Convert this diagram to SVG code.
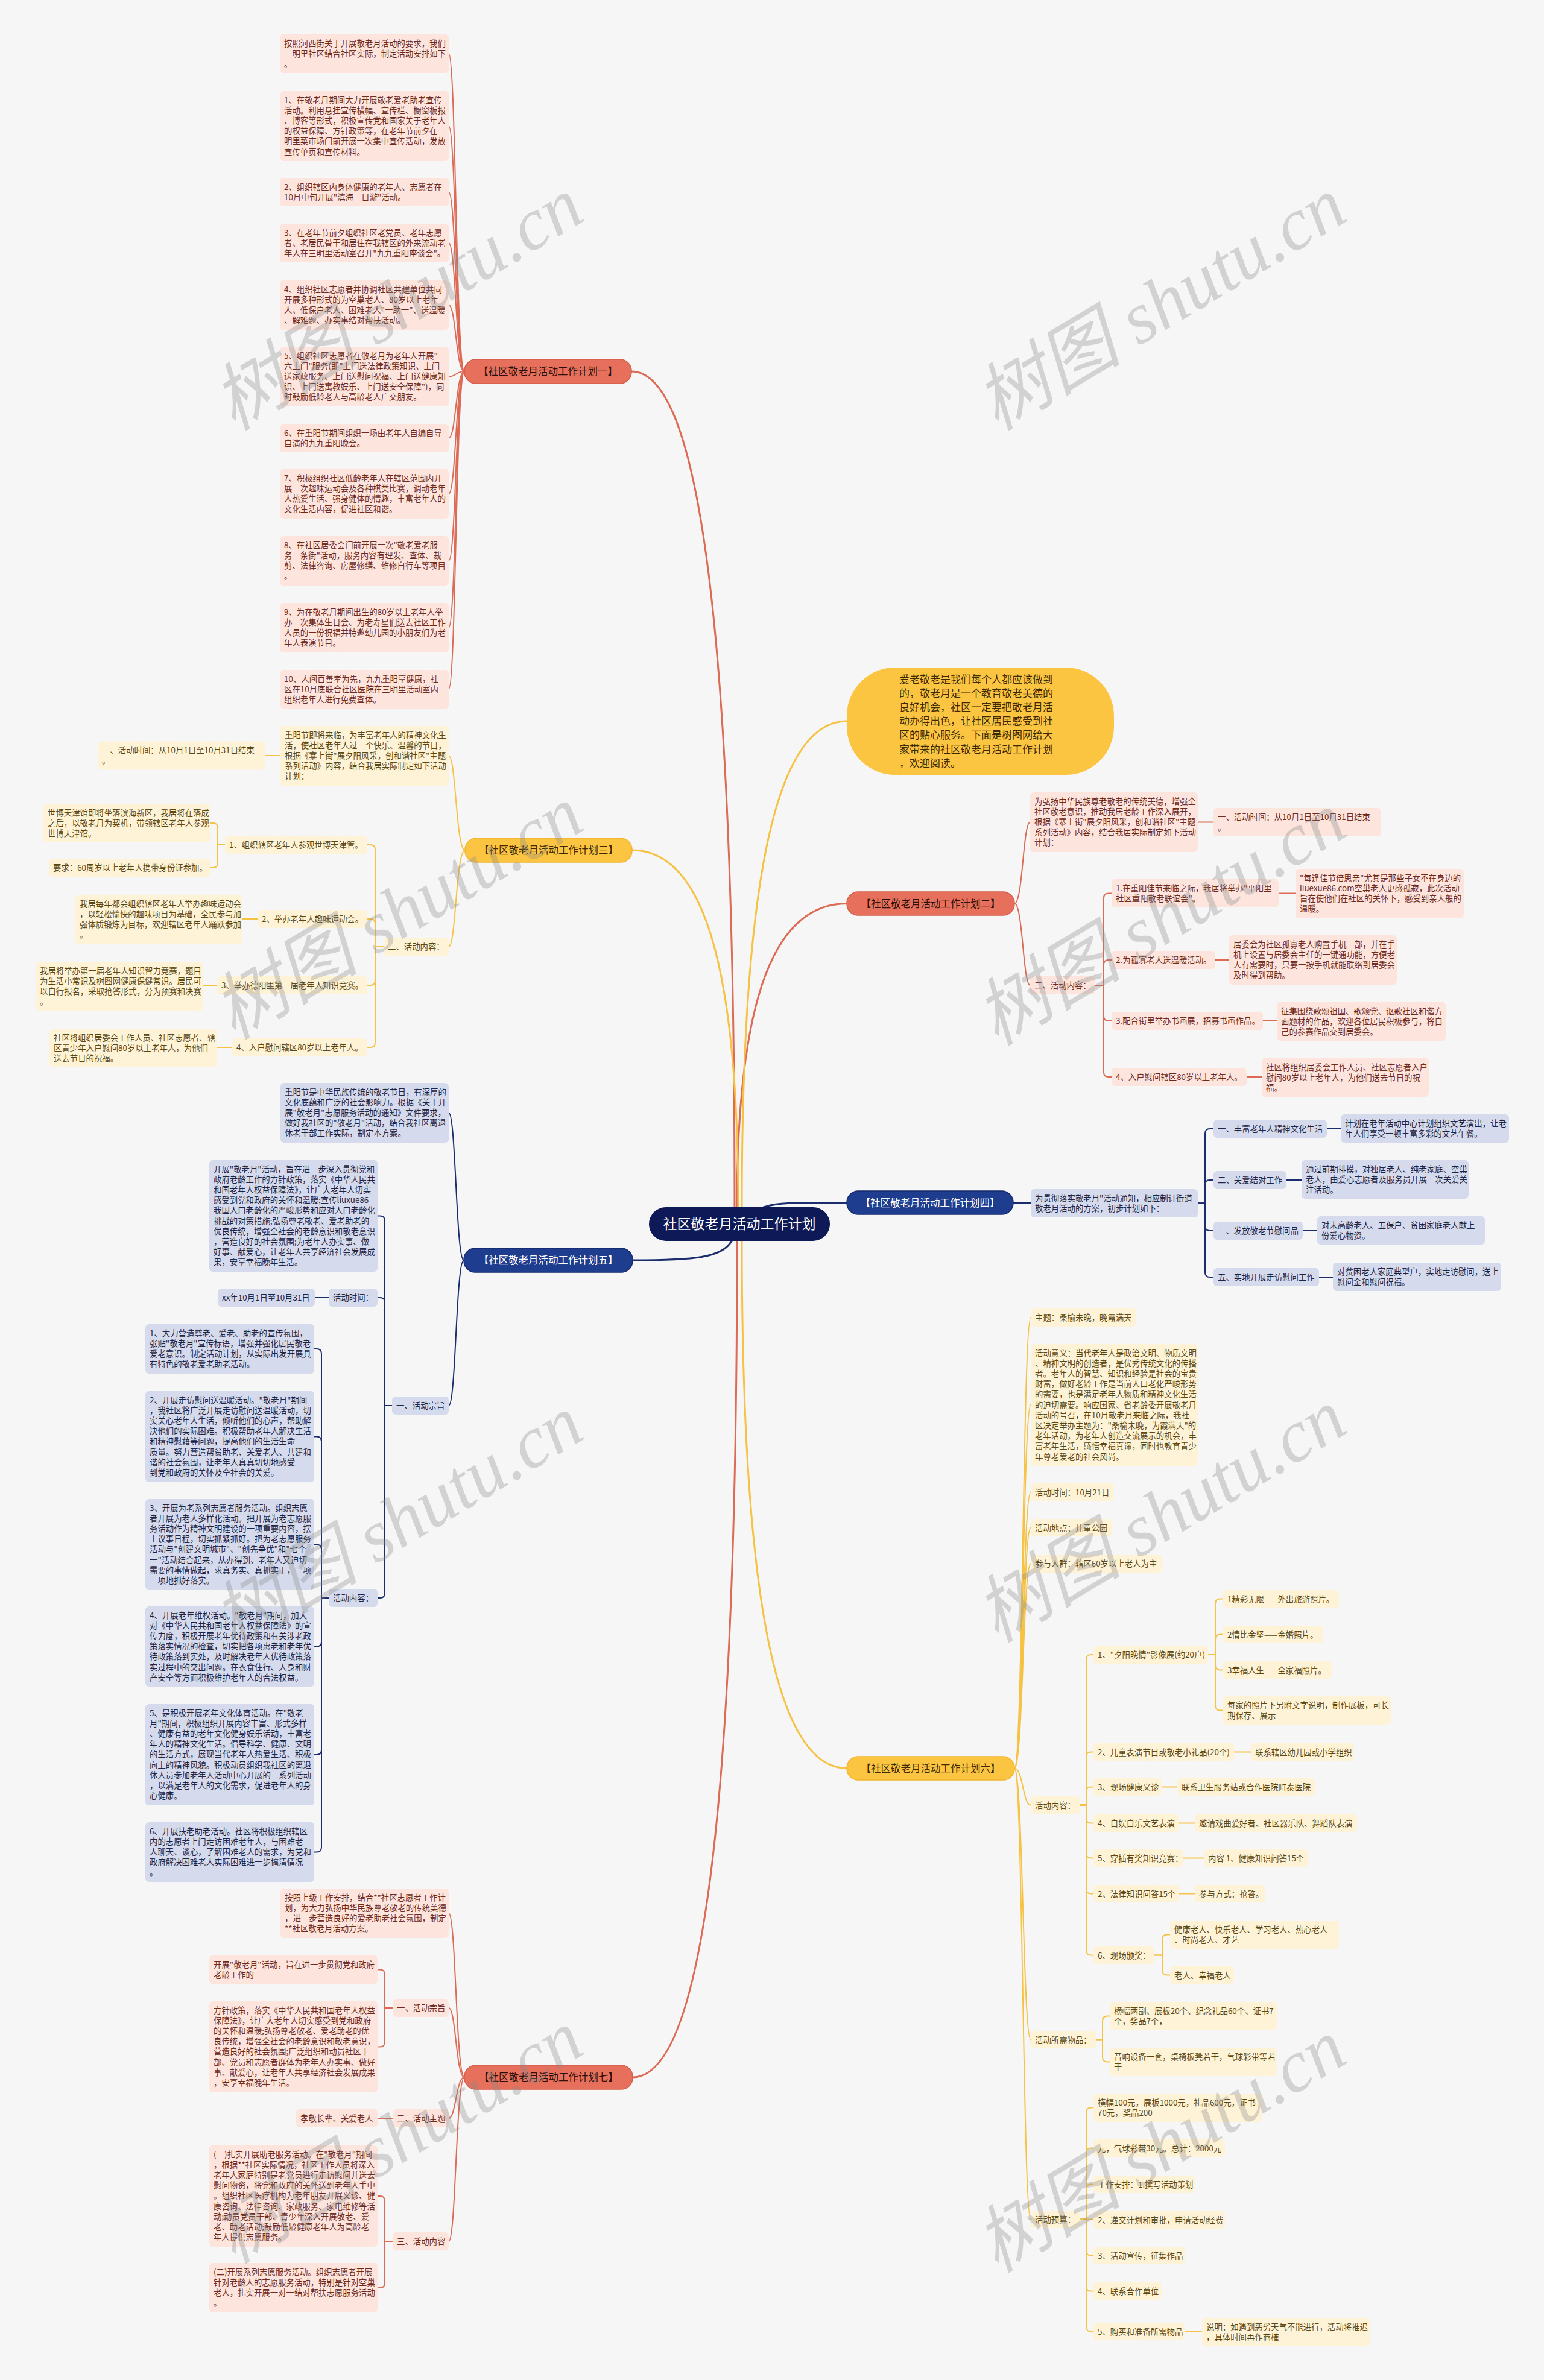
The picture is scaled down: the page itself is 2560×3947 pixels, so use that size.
<svg xmlns="http://www.w3.org/2000/svg" width="2560" height="3947" viewBox="0 0 2560 3947">
<style>
text{font-family:"Noto Sans CJK SC","Noto Sans",sans-serif}
.lr rect{fill:#fde4dd}.lr text{fill:#6d2a1d;font-size:13.4px}
.ly rect{fill:#fff3d7}.ly text{fill:#5b4712;font-size:13.4px}
.ln rect{fill:#d5dbec}.ln text{fill:#1d2445;font-size:13.4px}
.br rect{fill:#e6705b;stroke:#d45e49;stroke-width:1.5}.br text{fill:#2c0f08}
.by rect{fill:#fcc541;stroke:#f0b42c;stroke-width:1.5}.by text{fill:#3e2a02}
.bv rect{fill:#1f3d8e;stroke:#15296b;stroke-width:1.5}.bv text{fill:#fff}
.br text,.by text,.bv text{font-size:16.5px;text-anchor:middle}
#connectors path{fill:none;stroke-linecap:round;stroke-linejoin:round}
.cr path{stroke:#dc6a55}.cy path{stroke:#f6c244}.cv path{stroke:#1b2d6e}
.w3 path{stroke-width:3}.w2 path{stroke-width:2}
.wm text{font-family:"Liberation Serif","Noto Sans CJK SC",serif;font-style:italic;font-size:122px;fill:#8a8a8a;fill-opacity:0.33;text-anchor:middle}
</style>
<rect x="0" y="0" width="2560" height="3947" fill="#f6f6f6"/>

<g id="connectors">
  <g class="cr w3">
    <path d="M1218 2002 C1218 1032 1158 616 1047 616"/>
    <path d="M1222 2002 C1222 1649.5 1286 1498.5 1404 1498.5"/>
    <path d="M1222 2058 C1222 3029 1161 3445 1049 3445"/>
  </g>
  <g class="cy w3">
    <path d="M1224 2002 C1224 1588 1162 1410 1048 1410"/>
    <path d="M1230 2002 C1230 1438 1291 1196 1404 1196"/>
    <path d="M1230 2058 C1230 2670 1291 2932.5 1404 2932.5"/>
  </g>
  <g class="cv w3">
    <path d="M1266 2002 C1292 1993 1330 1995 1404 1995"/>
    <path d="M1213 2058 C1198 2086 1150 2090 1049 2090"/>
  </g>
  <g class="cr w2">
    <path d="M770 616 C756 616 756 89 744 89"/>
    <path d="M770 616 C756 616 756 209 744 209"/>
    <path d="M770 616 C756 616 756 318.5 744 318.5"/>
    <path d="M770 616 C756 616 756 403 744 403"/>
    <path d="M770 616 C756 616 756 506 744 506"/>
    <path d="M770 616 C756 616 756 624.5 744 624.5"/>
    <path d="M770 616 C756 616 756 726.5 744 726.5"/>
    <path d="M770 616 C756 616 756 819 744 819"/>
    <path d="M770 616 C756 616 756 930 744 930"/>
    <path d="M770 616 C756 616 756 1041 744 1041"/>
    <path d="M770 616 C756 616 756 1143 744 1143"/>
    <path d="M770 3445 C756 3445 756 3173 744 3173"/>
    <path d="M770 3445 C756 3445 756 3330 744 3330"/>
    <path d="M770 3445 C756 3445 756 3513 744 3513"/>
    <path d="M770 3445 C756 3445 756 3717 744 3717"/>
    <path d="M651 3330 H638 V3274.5 Q638 3266.5 630 3266.5 H626"/>
    <path d="M651 3330 H638 V3386.5 Q638 3394.5 630 3394.5 H626"/>
    <path d="M651 3513 H626"/>
    <path d="M651 3717 H638 V3650 Q638 3642 630 3642 H626"/>
    <path d="M651 3717 H638 V3786 Q638 3794 630 3794 H626"/>
    <path d="M1682 1498.5 C1696 1498.5 1696 1363.5 1708 1363.5"/>
    <path d="M1682 1498.5 C1696 1498.5 1696 1634 1708 1634"/>
    <path d="M1986 1363.5 H2012"/>
    <path d="M1816 1634 H1830 V1489.5 Q1830 1481.5 1838 1481.5 H1843"/>
    <path d="M1816 1634 H1830 V1600 Q1830 1592 1838 1592 H1843"/>
    <path d="M1816 1634 H1830 V1685 Q1830 1693 1838 1693 H1843"/>
    <path d="M1816 1634 H1830 V1778 Q1830 1786 1838 1786 H1843"/>
    <path d="M2120 1481.5 H2148"/>
    <path d="M2015 1592 H2038"/>
    <path d="M2094 1693 H2117"/>
    <path d="M2067 1786 H2092"/>
  </g>
  <g class="cy w2">
    <path d="M771 1410 C756 1410 756 1253.5 744 1253.5"/>
    <path d="M771 1410 C756 1410 756 1570 744 1570"/>
    <path d="M465 1253 H440"/>
    <path d="M636 1570 H622 V1409 Q622 1401 614 1401 H609"/>
    <path d="M636 1570 H622 V1532 Q622 1524 614 1524 H609"/>
    <path d="M636 1570 H622 V1626 Q622 1634 614 1634 H609"/>
    <path d="M636 1570 H622 V1729 Q622 1737 614 1737 H609"/>
    <path d="M373 1401 H361 V1373 Q361 1365 353 1365 H349"/>
    <path d="M373 1401 H361 V1431 Q361 1439 353 1439 H349"/>
    <path d="M427 1524 H402"/>
    <path d="M360 1634 H336"/>
    <path d="M385 1737 H360"/>
    <path d="M1682 2932.5 C1696 2932.5 1696 2185 1709 2185"/>
    <path d="M1682 2932.5 C1696 2932.5 1696 2330 1709 2330"/>
    <path d="M1682 2932.5 C1696 2932.5 1696 2474.5 1709 2474.5"/>
    <path d="M1682 2932.5 C1696 2932.5 1696 2533.5 1709 2533.5"/>
    <path d="M1682 2932.5 C1696 2932.5 1696 2593 1709 2593"/>
    <path d="M1682 2932.5 C1696 2932.5 1696 2993.5 1709 2993.5"/>
    <path d="M1682 2932.5 C1696 2932.5 1696 3382.5 1709 3382.5"/>
    <path d="M1682 2932.5 C1696 2932.5 1696 3680.5 1709 3680.5"/>
    <path d="M1790 2993.5 H1801 V2752 Q1801 2744 1809 2744 H1813"/>
    <path d="M1790 2993.5 H1801 V2913.5 Q1801 2905.5 1809 2905.5 H1813"/>
    <path d="M1790 2993.5 H1801 V2971.5 Q1801 2963.5 1809 2963.5 H1813"/>
    <path d="M1790 2993.5 H1801 V3015.5 Q1801 3023.5 1809 3023.5 H1813"/>
    <path d="M1790 2993.5 H1801 V3073.5 Q1801 3081.5 1809 3081.5 H1813"/>
    <path d="M1790 2993.5 H1801 V3132.5 Q1801 3140.5 1809 3140.5 H1813"/>
    <path d="M1790 2993.5 H1801 V3234.5 Q1801 3242.5 1809 3242.5 H1813"/>
    <path d="M2003 2744 H2015 V2659.5 Q2015 2651.5 2023 2651.5 H2028"/>
    <path d="M2003 2744 H2015 V2718.5 Q2015 2710.5 2023 2710.5 H2028"/>
    <path d="M2003 2744 H2015 V2761.5 Q2015 2769.5 2023 2769.5 H2028"/>
    <path d="M2003 2744 H2015 V2828.5 Q2015 2836.5 2023 2836.5 H2028"/>
    <path d="M2046 2905.5 H2074"/>
    <path d="M1926 2963.5 H1952"/>
    <path d="M1955 3023.5 H1981"/>
    <path d="M1961 3081.5 H1996"/>
    <path d="M1955 3140.5 H1981"/>
    <path d="M1914 3242.5 H1927 V3216.5 Q1927 3208.5 1935 3208.5 H1940"/>
    <path d="M1914 3242.5 H1927 V3267.5 Q1927 3275.5 1935 3275.5 H1940"/>
    <path d="M1817 3382.5 H1828 V3351.5 Q1828 3343.5 1836 3343.5 H1840"/>
    <path d="M1817 3382.5 H1828 V3411.5 Q1828 3419.5 1836 3419.5 H1840"/>
    <path d="M1790 3680.5 H1801 V3503.5 Q1801 3495.5 1809 3495.5 H1813"/>
    <path d="M1790 3680.5 H1801 V3570.5 Q1801 3562.5 1809 3562.5 H1813"/>
    <path d="M1790 3680.5 H1801 V3630.5 Q1801 3622.5 1809 3622.5 H1813"/>
    <path d="M1790 3680.5 H1813"/>
    <path d="M1790 3680.5 H1801 V3732.5 Q1801 3740.5 1809 3740.5 H1813"/>
    <path d="M1790 3680.5 H1801 V3791.5 Q1801 3799.5 1809 3799.5 H1813"/>
    <path d="M1790 3680.5 H1801 V3858.5 Q1801 3866.5 1809 3866.5 H1813"/>
    <path d="M1964 3866.5 H1993"/>
  </g>
  <g class="cv w2">
    <path d="M769 2090 C756 2090 756 1845.5 744 1845.5"/>
    <path d="M769 2090 C756 2090 756 2331 744 2331"/>
    <path d="M650 2331 H638 V2024.5 Q638 2016.5 630 2016.5 H626"/>
    <path d="M650 2331 H638 V2160 Q638 2152 630 2152 H626"/>
    <path d="M650 2331 H638 V2642 Q638 2650 630 2650 H626"/>
    <path d="M545 2152 H522"/>
    <path d="M545 2650 H533 V2245 Q533 2237 525 2237 H521"/>
    <path d="M545 2650 H533 V2390.5 Q533 2382.5 525 2382.5 H521"/>
    <path d="M545 2650 H533 V2569.5 Q533 2561.5 525 2561.5 H521"/>
    <path d="M545 2650 H533 V2722.5 Q533 2730.5 525 2730.5 H521"/>
    <path d="M545 2650 H533 V2902 Q533 2910 525 2910 H521"/>
    <path d="M545 2650 H533 V3063.5 Q533 3071.5 525 3071.5 H521"/>
    <path d="M1680 1995 H1709"/>
    <path d="M1986 1995.5 H1998 V1880 Q1998 1872 2006 1872 H2012"/>
    <path d="M1986 1995.5 H1998 V1965 Q1998 1957 2006 1957 H2012"/>
    <path d="M1986 1995.5 H1998 V2033 Q1998 2041 2006 2041 H2012"/>
    <path d="M1986 1995.5 H1998 V2110 Q1998 2118 2006 2118 H2012"/>
    <path d="M2200 1872 H2223"/>
    <path d="M2133 1957 H2158"/>
    <path d="M2160 2041 H2184"/>
    <path d="M2187 2118 H2210"/>
  </g>
</g>

<g id="center">
  <rect x="1076" y="2002" width="300" height="56" rx="28" fill="#0e1a58"/>
  <text x="1226" y="2038" font-size="23" fill="#ffffff" text-anchor="middle">社区敬老月活动工作计划</text>
</g>

<g id="intro">
  <rect x="1404" y="1107" width="443" height="178" rx="80" fill="#fcc541"/>
  <text font-size="17" fill="#3e2a02">
    <tspan x="1491" y="1133">爱老敬老是我们每个人都应该做到</tspan>
    <tspan x="1491" y="1156.1">的，敬老月是一个教育敬老美德的</tspan>
    <tspan x="1491" y="1179.2">良好机会，社区一定要把敬老月活</tspan>
    <tspan x="1491" y="1202.3">动办得出色，让社区居民感受到社</tspan>
    <tspan x="1491" y="1225.4">区的贴心服务。下面是树图网给大</tspan>
    <tspan x="1491" y="1248.5">家带来的社区敬老月活动工作计划</tspan>
    <tspan x="1491" y="1271.6">，欢迎阅读。</tspan>
  </text>
</g>

<!-- Branch 1 -->
<g id="b1" class="br"><rect x="770" y="596" width="277" height="40" rx="19"/><text x="908.5" y="622">【社区敬老月活动工作计划一】</text></g>
<g id="b1-0" class="lr"><rect x="464" y="57" width="280" height="64" rx="6"/><text><tspan x="471" y="76.5">按照河西街关于开展敬老月活动的要求，我们</tspan><tspan x="471" y="93.7">三明里社区结合社区实际，制定活动安排如下</tspan><tspan x="471" y="110.9">。</tspan></text></g>
<g id="b1-1" class="lr"><rect x="464" y="151" width="280" height="116" rx="6"/><text><tspan x="471" y="170.5">1、在敬老月期间大力开展敬老爱老助老宣传</tspan><tspan x="471" y="187.7">活动。利用悬挂宣传横幅、宣传栏、橱窗板报</tspan><tspan x="471" y="204.9">、博客等形式，积极宣传党和国家关于老年人</tspan><tspan x="471" y="222.1">的权益保障、方针政策等，在老年节前夕在三</tspan><tspan x="471" y="239.3">明里菜市场门前开展一次集中宣传活动，发放</tspan><tspan x="471" y="256.5">宣传单页和宣传材料。</tspan></text></g>
<g id="b1-2" class="lr"><rect x="464" y="295" width="280" height="47" rx="6"/><text><tspan x="471" y="314.5">2、组织辖区内身体健康的老年人、志愿者在</tspan><tspan x="471" y="331.7">10月中旬开展"滨海一日游"活动。</tspan></text></g>
<g id="b1-3" class="lr"><rect x="464" y="371" width="280" height="64" rx="6"/><text><tspan x="471" y="390.5">3、在老年节前夕组织社区老党员、老年志愿</tspan><tspan x="471" y="407.7">者、老居民骨干和居住在我辖区的外来流动老</tspan><tspan x="471" y="424.9">年人在三明里活动室召开"九九重阳座谈会"。</tspan></text></g>
<g id="b1-4" class="lr"><rect x="464" y="465" width="280" height="82" rx="6"/><text><tspan x="471" y="484.5">4、组织社区志愿者并协调社区共建单位共同</tspan><tspan x="471" y="501.7">开展多种形式的为空巢老人、80岁以上老年</tspan><tspan x="471" y="518.9">人、低保户老人、困难老人"一助一"、送温暖</tspan><tspan x="471" y="536.1">、解难题、办实事结对帮扶活动。</tspan></text></g>
<g id="b1-5" class="lr"><rect x="464" y="575" width="280" height="99" rx="6"/><text><tspan x="471" y="594.5">5、组织社区志愿者在敬老月为老年人开展"</tspan><tspan x="471" y="611.7">六上门"服务(即"上门送法律政策知识、上门</tspan><tspan x="471" y="628.9">送家政服务、上门送慰问祝福、上门送健康知</tspan><tspan x="471" y="646.1">识、上门送寓教娱乐、上门送安全保障")，同</tspan><tspan x="471" y="663.3">时鼓励低龄老人与高龄老人广交朋友。</tspan></text></g>
<g id="b1-6" class="lr"><rect x="464" y="703" width="280" height="47" rx="6"/><text><tspan x="471" y="722.5">6、在重阳节期间组织一场由老年人自编自导</tspan><tspan x="471" y="739.7">自演的九九重阳晚会。</tspan></text></g>
<g id="b1-7" class="lr"><rect x="464" y="778" width="280" height="82" rx="6"/><text><tspan x="471" y="797.5">7、积极组织社区低龄老年人在辖区范围内开</tspan><tspan x="471" y="814.7">展一次趣味运动会及各种棋类比赛，调动老年</tspan><tspan x="471" y="831.9">人热爱生活、强身健体的情趣，丰富老年人的</tspan><tspan x="471" y="849.1">文化生活内容，促进社区和谐。</tspan></text></g>
<g id="b1-8" class="lr"><rect x="464" y="889" width="280" height="82" rx="6"/><text><tspan x="471" y="908.5">8、在社区居委会门前开展一次"敬老爱老服</tspan><tspan x="471" y="925.7">务一条街"活动，服务内容有理发、查体、裁</tspan><tspan x="471" y="942.9">剪、法律咨询、房屋修缮、维修自行车等项目</tspan><tspan x="471" y="960.1">。</tspan></text></g>
<g id="b1-9" class="lr"><rect x="464" y="1000" width="280" height="82" rx="6"/><text><tspan x="471" y="1019.5">9、为在敬老月期间出生的80岁以上老年人举</tspan><tspan x="471" y="1036.7">办一次集体生日会、为老寿星们送去社区工作</tspan><tspan x="471" y="1053.9">人员的一份祝福并特邀幼儿园的小朋友们为老</tspan><tspan x="471" y="1071.1">年人表演节目。</tspan></text></g>
<g id="b1-10" class="lr"><rect x="464" y="1111" width="280" height="64" rx="6"/><text><tspan x="471" y="1130.5">10、人间百善孝为先，九九重阳享健康，社</tspan><tspan x="471" y="1147.7">区在10月底联合社区医院在三明里活动室内</tspan><tspan x="471" y="1164.9">组织老年人进行免费查体。</tspan></text></g>

<!-- Branch 3 -->
<g id="b3" class="by"><rect x="771" y="1390" width="277" height="40" rx="19"/><text x="909.5" y="1416">【社区敬老月活动工作计划三】</text></g>
<g id="b3-0" class="ly"><rect x="465" y="1204" width="279" height="99" rx="6"/><text><tspan x="472" y="1223.5">重阳节即将来临，为丰富老年人的精神文化生</tspan><tspan x="472" y="1240.7">活，使社区老年人过一个快乐、温馨的节日，</tspan><tspan x="472" y="1257.9">根据《寨上街"展夕阳风采，创和谐社区"主题</tspan><tspan x="472" y="1275.1">系列活动》内容，结合我居实际制定如下活动</tspan><tspan x="472" y="1292.3">计划：</tspan></text></g>
<g id="b3-0a" class="ly"><rect x="162" y="1229.5" width="278" height="47" rx="6"/><text><tspan x="169" y="1249">一、活动时间：从10月1日至10月31日结束</tspan><tspan x="169" y="1266.2">。</tspan></text></g>
<g id="b3-1" class="ly"><rect x="636" y="1555" width="108" height="30" rx="6"/><text x="643" y="1574.5">二、活动内容：</text></g>
<g id="b3-1a" class="ly"><rect x="373" y="1386" width="236" height="30" rx="6"/><text x="380" y="1405.5">1、组织辖区老年人参观世博天津管。</text></g>
<g id="b3-1a1" class="ly"><rect x="72" y="1333" width="277" height="64" rx="6"/><text><tspan x="79" y="1352.5">世博天津馆即将坐落滨海新区，我居将在落成</tspan><tspan x="79" y="1369.7">之后，以敬老月为契机，带领辖区老年人参观</tspan><tspan x="79" y="1386.9">世博天津馆。</tspan></text></g>
<g id="b3-1a2" class="ly"><rect x="81" y="1424" width="268" height="30" rx="6"/><text x="88" y="1443.5">要求：60周岁以上老年人携带身份证参加。</text></g>
<g id="b3-1b" class="ly"><rect x="427" y="1509" width="182" height="30" rx="6"/><text x="434" y="1528.5">2、举办老年人趣味运动会。</text></g>
<g id="b3-1b1" class="ly"><rect x="125" y="1484" width="277" height="82" rx="6"/><text><tspan x="132" y="1503.5">我居每年都会组织辖区老年人举办趣味运动会</tspan><tspan x="132" y="1520.7">，以轻松愉快的趣味项目为基础，全民参与加</tspan><tspan x="132" y="1537.9">强体质锻炼为目标，欢迎辖区老年人踊跃参加</tspan><tspan x="132" y="1555.1">。</tspan></text></g>
<g id="b3-1c" class="ly"><rect x="360" y="1619" width="249" height="30" rx="6"/><text x="367" y="1638.5">3、举办德阳里第一届老年人知识竞赛。</text></g>
<g id="b3-1c1" class="ly"><rect x="59" y="1595" width="277" height="82" rx="6"/><text><tspan x="66" y="1614.5">我居将举办第一届老年人知识智力竞赛，题目</tspan><tspan x="66" y="1631.7">为生活小常识及树图网健康保健常识。居民可</tspan><tspan x="66" y="1648.9">以自行报名，采取抢答形式，分为预赛和决赛</tspan><tspan x="66" y="1666.1">。</tspan></text></g>
<g id="b3-1d" class="ly"><rect x="385" y="1722" width="224" height="30" rx="6"/><text x="392" y="1741.5">4、入户慰问辖区80岁以上老年人。</text></g>
<g id="b3-1d1" class="ly"><rect x="82" y="1706" width="278" height="64" rx="6"/><text><tspan x="89" y="1725.5">社区将组织居委会工作人员、社区志愿者、辖</tspan><tspan x="89" y="1742.7">区青少年入户慰问80岁以上老年人，为他们</tspan><tspan x="89" y="1759.9">送去节日的祝福。</tspan></text></g>

<!-- Branch 5 -->
<g id="b5" class="bv"><rect x="769" y="2070" width="280" height="40" rx="19"/><text x="909" y="2096">【社区敬老月活动工作计划五】</text></g>
<g id="b5-0" class="ln"><rect x="465" y="1796" width="279" height="99" rx="6"/><text><tspan x="472" y="1815.5">重阳节是中华民族传统的敬老节日，有深厚的</tspan><tspan x="472" y="1832.7">文化底蕴和广泛的社会影响力。根据《关于开</tspan><tspan x="472" y="1849.9">展"敬老月"志愿服务活动的通知》文件要求，</tspan><tspan x="472" y="1867.1">做好我社区的"敬老月"活动，结合我社区离退</tspan><tspan x="472" y="1884.3">休老干部工作实际，制定本方案。</tspan></text></g>
<g id="b5-1" class="ln"><rect x="650" y="2316" width="94" height="30" rx="6"/><text x="657" y="2335.5">一、活动宗旨</text></g>
<g id="b5-1a" class="ln"><rect x="347" y="1924" width="279" height="185" rx="6"/><text><tspan x="354" y="1943.5">开展"敬老月"活动，旨在进一步深入贯彻党和</tspan><tspan x="354" y="1960.7">政府老龄工作的方针政策，落实《中华人民共</tspan><tspan x="354" y="1977.9">和国老年人权益保障法》，让广大老年人切实</tspan><tspan x="354" y="1995.1">感受到党和政府的关怀和温暖;宣传liuxue86</tspan><tspan x="354" y="2012.3">我国人口老龄化的严峻形势和应对人口老龄化</tspan><tspan x="354" y="2029.5">挑战的对策措施;弘扬尊老敬老、爱老助老的</tspan><tspan x="354" y="2046.7">优良传统，增强全社会的老龄意识和敬老意识</tspan><tspan x="354" y="2063.9">，营造良好的社会氛围;为老年人办实事、做</tspan><tspan x="354" y="2081.1">好事、献爱心，让老年人共享经济社会发展成</tspan><tspan x="354" y="2098.3">果，安享幸福晚年生活。</tspan></text></g>
<g id="b5-1b" class="ln"><rect x="545" y="2137" width="81" height="30" rx="6"/><text x="552" y="2156.5">活动时间：</text></g>
<g id="b5-1b1" class="ln"><rect x="361" y="2137" width="161" height="30" rx="6"/><text x="368" y="2156.5">xx年10月1日至10月31日</text></g>
<g id="b5-1c" class="ln"><rect x="545" y="2635" width="81" height="30" rx="6"/><text x="552" y="2654.5">活动内容：</text></g>
<g id="b5-1c1" class="ln"><rect x="241" y="2196" width="280" height="82" rx="6"/><text><tspan x="248" y="2215.5">1、大力营造尊老、爱老、助老的宣传氛围，</tspan><tspan x="248" y="2232.7">张贴"敬老月"宣传标语，增强并强化居民敬老</tspan><tspan x="248" y="2249.9">爱老意识。制定活动计划，从实际出发开展具</tspan><tspan x="248" y="2267.1">有特色的敬老爱老助老活动。</tspan></text></g>
<g id="b5-1c2" class="ln"><rect x="241" y="2307" width="280" height="151" rx="6"/><text><tspan x="248" y="2326.5">2、开展走访慰问送温暖活动。"敬老月"期间</tspan><tspan x="248" y="2343.7">，我社区将广泛开展走访慰问送温暖活动，切</tspan><tspan x="248" y="2360.9">实关心老年人生活，倾听他们的心声，帮助解</tspan><tspan x="248" y="2378.1">决他们的实际困难。积极帮助老年人解决生活</tspan><tspan x="248" y="2395.3">和精神慰藉等问题，提高他们的生活生命</tspan><tspan x="248" y="2412.5">质量。努力营造帮贫助老、关爱老人、共建和</tspan><tspan x="248" y="2429.7">谐的社会氛围，让老年人真真切切地感受</tspan><tspan x="248" y="2446.9">到党和政府的关怀及全社会的关爱。</tspan></text></g>
<g id="b5-1c3" class="ln"><rect x="241" y="2486" width="280" height="151" rx="6"/><text><tspan x="248" y="2505.5">3、开展为老系列志愿者服务活动。组织志愿</tspan><tspan x="248" y="2522.7">者开展为老人多样化活动。把开展为老志愿服</tspan><tspan x="248" y="2539.9">务活动作为精神文明建设的一项重要内容，摆</tspan><tspan x="248" y="2557.1">上议事日程，切实抓紧抓好。把为老志愿服务</tspan><tspan x="248" y="2574.3">活动与"创建文明城市"、"创先争优"和"七个</tspan><tspan x="248" y="2591.5">一"活动结合起来，从办得到、老年人又迫切</tspan><tspan x="248" y="2608.7">需要的事情做起，求真务实、真抓实干，一项</tspan><tspan x="248" y="2625.9">一项地抓好落实。</tspan></text></g>
<g id="b5-1c4" class="ln"><rect x="241" y="2664" width="280" height="133" rx="6"/><text><tspan x="248" y="2683.5">4、开展老年维权活动。"敬老月"期间，加大</tspan><tspan x="248" y="2700.7">对《中华人民共和国老年人权益保障法》的宣</tspan><tspan x="248" y="2717.9">传力度，积极开展老年优待政策和有关涉老政</tspan><tspan x="248" y="2735.1">策落实情况的检查，切实把各项惠老和老年优</tspan><tspan x="248" y="2752.3">待政策落到实处，及时解决老年人优待政策落</tspan><tspan x="248" y="2769.5">实过程中的突出问题。在衣食住行、人身和财</tspan><tspan x="248" y="2786.7">产安全等方面积极维护老年人的合法权益。</tspan></text></g>
<g id="b5-1c5" class="ln"><rect x="241" y="2826" width="280" height="168" rx="6"/><text><tspan x="248" y="2845.5">5、是积极开展老年文化体育活动。在"敬老</tspan><tspan x="248" y="2862.7">月"期间，积极组织开展内容丰富、形式多样</tspan><tspan x="248" y="2879.9">、健康有益的老年文化健身娱乐活动，丰富老</tspan><tspan x="248" y="2897.1">年人的精神文化生活。倡导科学、健康、文明</tspan><tspan x="248" y="2914.3">的生活方式，展现当代老年人热爱生活、积极</tspan><tspan x="248" y="2931.5">向上的精神风貌。积极动员组织我社区的离退</tspan><tspan x="248" y="2948.7">休人员参加老年人活动中心开展的一系列活动</tspan><tspan x="248" y="2965.9">，以满足老年人的文化需求，促进老年人的身</tspan><tspan x="248" y="2983.1">心健康。</tspan></text></g>
<g id="b5-1c6" class="ln"><rect x="241" y="3022" width="280" height="99" rx="6"/><text><tspan x="248" y="3041.5">6、开展扶老助老活动。社区将积极组织辖区</tspan><tspan x="248" y="3058.7">内的志愿者上门走访困难老年人，与困难老</tspan><tspan x="248" y="3075.9">人聊天、谈心，了解困难老人的需求，为党和</tspan><tspan x="248" y="3093.1">政府解决困难老人实际困难进一步搞清情况</tspan><tspan x="248" y="3110.3">。</tspan></text></g>

<!-- Branch 7 -->
<g id="b7" class="br"><rect x="770" y="3425" width="279" height="40" rx="19"/><text x="909.5" y="3451">【社区敬老月活动工作计划七】</text></g>
<g id="b7-0" class="lr"><rect x="465" y="3132" width="279" height="82" rx="6"/><text><tspan x="472" y="3151.5">按照上级工作安排，结合**社区志愿者工作计</tspan><tspan x="472" y="3168.7">划，为大力弘扬中华民族尊老敬老的传统美德</tspan><tspan x="472" y="3185.9">，进一步营造良好的爱老助老社会氛围，制定</tspan><tspan x="472" y="3203.1">**社区敬老月活动方案。</tspan></text></g>
<g id="b7-1" class="lr"><rect x="651" y="3315" width="93" height="30" rx="6"/><text x="658" y="3334.5">一、活动宗旨</text></g>
<g id="b7-1a" class="lr"><rect x="347" y="3243" width="279" height="47" rx="6"/><text><tspan x="354" y="3262.5">开展"敬老月"活动，旨在进一步贯彻党和政府</tspan><tspan x="354" y="3279.7">老龄工作的</tspan></text></g>
<g id="b7-1b" class="lr"><rect x="347" y="3319" width="279" height="151" rx="6"/><text><tspan x="354" y="3338.5">方针政策，落实《中华人民共和国老年人权益</tspan><tspan x="354" y="3355.7">保障法》，让广大老年人切实感受到党和政府</tspan><tspan x="354" y="3372.9">的关怀和温暖;弘扬尊老敬老、爱老助老的优</tspan><tspan x="354" y="3390.1">良传统，增强全社会的老龄意识和敬老意识，</tspan><tspan x="354" y="3407.3">营造良好的社会氛围;广泛组织和动员社区干</tspan><tspan x="354" y="3424.5">部、党员和志愿者群体为老年人办实事、做好</tspan><tspan x="354" y="3441.7">事、献爱心，让老年人共享经济社会发展成果</tspan><tspan x="354" y="3458.9">，安享幸福晚年生活。</tspan></text></g>
<g id="b7-2" class="lr"><rect x="651" y="3498" width="93" height="30" rx="6"/><text x="658" y="3517.5">二、活动主题</text></g>
<g id="b7-2a" class="lr"><rect x="491" y="3498" width="135" height="30" rx="6"/><text x="498" y="3517.5">孝敬长辈、关爱老人</text></g>
<g id="b7-3" class="lr"><rect x="651" y="3702" width="93" height="30" rx="6"/><text x="658" y="3721.5">三、活动内容</text></g>
<g id="b7-3a" class="lr"><rect x="347" y="3558" width="279" height="168" rx="6"/><text><tspan x="354" y="3577.5">(一)扎实开展助老服务活动。在"敬老月"期间</tspan><tspan x="354" y="3594.7">，根据**社区实际情况，社区工作人员将深入</tspan><tspan x="354" y="3611.9">老年人家庭特别是老党员进行走访慰问并送去</tspan><tspan x="354" y="3629.1">慰问物资，将党和政府的关怀送到老年人手中</tspan><tspan x="354" y="3646.3">。组织社区医疗机构为老年朋友开展义诊、健</tspan><tspan x="354" y="3663.5">康咨询、法律咨询、家政服务、家电维修等活</tspan><tspan x="354" y="3680.7">动;动员党员干部、青少年深入开展敬老、爱</tspan><tspan x="354" y="3697.9">老、助老活动;鼓励低龄健康老年人为高龄老</tspan><tspan x="354" y="3715.1">年人提供志愿服务。</tspan></text></g>
<g id="b7-3b" class="lr"><rect x="347" y="3753" width="279" height="82" rx="6"/><text><tspan x="354" y="3772.5">(二)开展系列志愿服务活动。组织志愿者开展</tspan><tspan x="354" y="3789.7">针对老龄人的志愿服务活动，特别是针对空巢</tspan><tspan x="354" y="3806.9">老人，扎实开展一对一结对帮扶志愿服务活动</tspan><tspan x="354" y="3824.1">。</tspan></text></g>

<!-- Branch 2 -->
<g id="b2" class="br"><rect x="1404" y="1479" width="278" height="39" rx="19"/><text x="1543" y="1504.5">【社区敬老月活动工作计划二】</text></g>
<g id="b2-0" class="lr"><rect x="1708" y="1314" width="278" height="99" rx="6"/><text><tspan x="1715" y="1333.5">为弘扬中华民族尊老敬老的传统美德，增强全</tspan><tspan x="1715" y="1350.7">社区敬老意识，推动我居老龄工作深入展开，</tspan><tspan x="1715" y="1367.9">根据《寨上街"展夕阳风采，创和谐社区"主题</tspan><tspan x="1715" y="1385.1">系列活动》内容，结合我居实际制定如下活动</tspan><tspan x="1715" y="1402.3">计划：</tspan></text></g>
<g id="b2-0a" class="lr"><rect x="2012" y="1340" width="278" height="47" rx="6"/><text><tspan x="2019" y="1359.5">一、活动时间：从10月1日至10月31日结束</tspan><tspan x="2019" y="1376.7">。</tspan></text></g>
<g id="b2-1" class="lr"><rect x="1708" y="1619" width="108" height="30" rx="6"/><text x="1715" y="1638.5">二、活动内容：</text></g>
<g id="b2-1a" class="lr"><rect x="1843" y="1458" width="277" height="47" rx="6"/><text><tspan x="1850" y="1477.5">1.在重阳佳节来临之际，我居将举办"平阳里</tspan><tspan x="1850" y="1494.7">社区重阳敬老联谊会"。</tspan></text></g>
<g id="b2-1a1" class="lr"><rect x="2148" y="1441" width="279" height="82" rx="6"/><text><tspan x="2155" y="1460.5">"每逢佳节倍思亲"尤其是那些子女不在身边的</tspan><tspan x="2155" y="1477.7">liuexue86.com空巢老人更感孤寂，此次活动</tspan><tspan x="2155" y="1494.9">旨在使他们在社区的关怀下，感受到亲人般的</tspan><tspan x="2155" y="1512.1">温暖。</tspan></text></g>
<g id="b2-1b" class="lr"><rect x="1843" y="1577" width="172" height="30" rx="6"/><text x="1850" y="1596.5">2.为孤寡老人送温暖活动。</text></g>
<g id="b2-1b1" class="lr"><rect x="2038" y="1551" width="278" height="82" rx="6"/><text><tspan x="2045" y="1570.5">居委会为社区孤寡老人购置手机一部，并在手</tspan><tspan x="2045" y="1587.7">机上设置与居委会主任的一键通功能，方便老</tspan><tspan x="2045" y="1604.9">人有需要时，只要一按手机就能联络到居委会</tspan><tspan x="2045" y="1622.1">及时得到帮助。</tspan></text></g>
<g id="b2-1c" class="lr"><rect x="1843" y="1678" width="251" height="30" rx="6"/><text x="1850" y="1697.5">3.配合街里举办书画展，招募书画作品。</text></g>
<g id="b2-1c1" class="lr"><rect x="2117" y="1662" width="280" height="64" rx="6"/><text><tspan x="2124" y="1681.5">征集围绕歌颂祖国、歌颂党、讴歌社区和谐方</tspan><tspan x="2124" y="1698.7">面题材的作品，欢迎各位居民积极参与，将自</tspan><tspan x="2124" y="1715.9">己的参赛作品交到居委会。</tspan></text></g>
<g id="b2-1d" class="lr"><rect x="1843" y="1771" width="224" height="30" rx="6"/><text x="1850" y="1790.5">4、入户慰问辖区80岁以上老年人。</text></g>
<g id="b2-1d1" class="lr"><rect x="2092" y="1755" width="277" height="64" rx="6"/><text><tspan x="2099" y="1774.5">社区将组织居委会工作人员、社区志愿者入户</tspan><tspan x="2099" y="1791.7">慰问80岁以上老年人，为他们送去节日的祝</tspan><tspan x="2099" y="1808.9">福。</tspan></text></g>

<!-- Branch 4 -->
<g id="b4" class="bv"><rect x="1404" y="1975" width="276" height="39" rx="19"/><text x="1542" y="2000.5">【社区敬老月活动工作计划四】</text></g>
<g id="b4-0" class="ln"><rect x="1709" y="1972" width="277" height="47" rx="6"/><text><tspan x="1716" y="1991.5">为贯彻落实敬老月"活动通知，相应制订街道</tspan><tspan x="1716" y="2008.7">敬老月活动的方案，初步计划如下：</tspan></text></g>
<g id="b4-1" class="ln"><rect x="2012" y="1857" width="188" height="30" rx="6"/><text x="2019" y="1876.5">一、丰富老年人精神文化生活</text></g>
<g id="b4-1a" class="ln"><rect x="2223" y="1848" width="279" height="47" rx="6"/><text><tspan x="2230" y="1867.5">计划在老年活动中心计划组织文艺演出，让老</tspan><tspan x="2230" y="1884.7">年人们享受一顿丰富多彩的文艺午餐。</tspan></text></g>
<g id="b4-2" class="ln"><rect x="2012" y="1942" width="121" height="30" rx="6"/><text x="2019" y="1961.5">二、关爱结对工作</text></g>
<g id="b4-2a" class="ln"><rect x="2158" y="1924" width="277" height="64" rx="6"/><text><tspan x="2165" y="1943.5">通过前期排摸，对独居老人、纯老家庭、空巢</tspan><tspan x="2165" y="1960.7">老人，由爱心志愿者及服务员开展一次关爱关</tspan><tspan x="2165" y="1977.9">注活动。</tspan></text></g>
<g id="b4-3" class="ln"><rect x="2012" y="2026" width="148" height="30" rx="6"/><text x="2019" y="2045.5">三、发放敬老节慰问品</text></g>
<g id="b4-3a" class="ln"><rect x="2184" y="2017" width="278" height="47" rx="6"/><text><tspan x="2191" y="2036.5">对未高龄老人、五保户、贫困家庭老人献上一</tspan><tspan x="2191" y="2053.7">份爱心物资。</tspan></text></g>
<g id="b4-4" class="ln"><rect x="2012" y="2103" width="175" height="30" rx="6"/><text x="2019" y="2122.5">五、实地开展走访慰问工作</text></g>
<g id="b4-4a" class="ln"><rect x="2210" y="2094" width="279" height="47" rx="6"/><text><tspan x="2217" y="2113.5">对贫困老人家庭典型户，实地走访慰问，送上</tspan><tspan x="2217" y="2130.7">慰问金和慰问祝福。</tspan></text></g>

<!-- Branch 6 -->
<g id="b6" class="by"><rect x="1404" y="2913" width="278" height="39" rx="19"/><text x="1543" y="2938.5">【社区敬老月活动工作计划六】</text></g>
<g id="b6-1" class="ly"><rect x="1709" y="2170" width="175" height="30" rx="6"/><text x="1716" y="2189.5">主题：桑榆未晚，晚霞满天</text></g>
<g id="b6-2" class="ly"><rect x="1709" y="2229" width="277" height="202" rx="6"/><text><tspan x="1716" y="2248.5">活动意义：当代老年人是政治文明、物质文明</tspan><tspan x="1716" y="2265.7">、精神文明的创造者，是优秀传统文化的传播</tspan><tspan x="1716" y="2282.9">者。老年人的智慧、知识和经验是社会的宝贵</tspan><tspan x="1716" y="2300.1">财富，做好老龄工作是当前人口老化严峻形势</tspan><tspan x="1716" y="2317.3">的需要，也是满足老年人物质和精神文化生活</tspan><tspan x="1716" y="2334.5">的迫切需要。响应国家、省老龄委开展敬老月</tspan><tspan x="1716" y="2351.7">活动的号召，在10月敬老月来临之际，我社</tspan><tspan x="1716" y="2368.9">区决定举办主题为："桑榆未晚，为霞满天"的</tspan><tspan x="1716" y="2386.1">老年活动，为老年人创造交流展示的机会，丰</tspan><tspan x="1716" y="2403.3">富老年生活，感悟幸福真谛，同时也教育青少</tspan><tspan x="1716" y="2420.5">年尊老爱老的社会风尚。</tspan></text></g>
<g id="b6-3" class="ly"><rect x="1709" y="2460" width="138" height="29" rx="6"/><text x="1716" y="2479.5">活动时间：10月21日</text></g>
<g id="b6-4" class="ly"><rect x="1709" y="2519" width="135" height="29" rx="6"/><text x="1716" y="2538.5">活动地点：儿童公园</text></g>
<g id="b6-5" class="ly"><rect x="1709" y="2578" width="217" height="30" rx="6"/><text x="1716" y="2597.5">参与人群：辖区60岁以上老人为主</text></g>
<g id="b6-6" class="ly"><rect x="1709" y="2979" width="81" height="29" rx="6"/><text x="1716" y="2998.5">活动内容：</text></g>
<g id="b6-6a" class="ly"><rect x="1813" y="2729" width="190" height="30" rx="6"/><text x="1820" y="2748.5">1、"夕阳晚情"影像展(约20户)</text></g>
<g id="b6-6a1" class="ly"><rect x="2028" y="2637" width="192" height="29" rx="6"/><text x="2035" y="2656.5">1精彩无限——外出旅游照片。</text></g>
<g id="b6-6a2" class="ly"><rect x="2028" y="2696" width="166" height="29" rx="6"/><text x="2035" y="2715.5">2情比金坚——金婚照片。</text></g>
<g id="b6-6a3" class="ly"><rect x="2028" y="2755" width="180" height="29" rx="6"/><text x="2035" y="2774.5">3幸福人生——全家福照片。</text></g>
<g id="b6-6a4" class="ly"><rect x="2028" y="2813" width="278" height="47" rx="6"/><text><tspan x="2035" y="2832.5">每家的照片下另附文字说明，制作展板，可长</tspan><tspan x="2035" y="2849.7">期保存、展示</tspan></text></g>
<g id="b6-6b" class="ly"><rect x="1813" y="2891" width="233" height="29" rx="6"/><text x="1820" y="2910.5">2、儿童表演节目或敬老小礼品(20个)</text></g>
<g id="b6-6b1" class="ly"><rect x="2074" y="2891" width="171" height="29" rx="6"/><text x="2081" y="2910.5">联系辖区幼儿园或小学组织</text></g>
<g id="b6-6c" class="ly"><rect x="1813" y="2949" width="113" height="29" rx="6"/><text x="1820" y="2968.5">3、现场健康义诊</text></g>
<g id="b6-6c1" class="ly"><rect x="1952" y="2949" width="228" height="29" rx="6"/><text x="1959" y="2968.5">联系卫生服务站或合作医院町泰医院</text></g>
<g id="b6-6d" class="ly"><rect x="1813" y="3009" width="142" height="29" rx="6"/><text x="1820" y="3028.5">4、自娱自乐文艺表演</text></g>
<g id="b6-6d1" class="ly"><rect x="1981" y="3009" width="269" height="29" rx="6"/><text x="1988" y="3028.5">邀请戏曲爱好者、社区器乐队、舞蹈队表演</text></g>
<g id="b6-6e" class="ly"><rect x="1813" y="3067" width="148" height="29" rx="6"/><text x="1820" y="3086.5">5、穿插有奖知识竞赛：</text></g>
<g id="b6-6e1" class="ly"><rect x="1996" y="3067" width="172" height="29" rx="6"/><text x="2003" y="3086.5">内容 1、健康知识问答15个</text></g>
<g id="b6-6f" class="ly"><rect x="1813" y="3126" width="142" height="29" rx="6"/><text x="1820" y="3145.5">2、法律知识问答15个</text></g>
<g id="b6-6f1" class="ly"><rect x="1981" y="3126" width="117" height="29" rx="6"/><text x="1988" y="3145.5">参与方式：抢答。</text></g>
<g id="b6-6g" class="ly"><rect x="1813" y="3228" width="101" height="29" rx="6"/><text x="1820" y="3247.5">6、现场颁奖：</text></g>
<g id="b6-6g1" class="ly"><rect x="1940" y="3185" width="280" height="47" rx="6"/><text><tspan x="1947" y="3204.5">健康老人、快乐老人、学习老人、热心老人</tspan><tspan x="1947" y="3221.7">、时尚老人、才艺</tspan></text></g>
<g id="b6-6g2" class="ly"><rect x="1940" y="3261" width="106" height="29" rx="6"/><text x="1947" y="3280.5">老人、幸福老人</text></g>
<g id="b6-7" class="ly"><rect x="1709" y="3368" width="108" height="29" rx="6"/><text x="1716" y="3387.5">活动所需物品：</text></g>
<g id="b6-7a" class="ly"><rect x="1840" y="3320" width="277" height="47" rx="6"/><text><tspan x="1847" y="3339.5">横幅两副、展板20个、纪念礼品60个、证书7</tspan><tspan x="1847" y="3356.7">个，奖品7个，</tspan></text></g>
<g id="b6-7b" class="ly"><rect x="1840" y="3396" width="277" height="47" rx="6"/><text><tspan x="1847" y="3415.5">音响设备一套，桌椅板凳若干，气球彩带等若</tspan><tspan x="1847" y="3432.7">干</tspan></text></g>
<g id="b6-8" class="ly"><rect x="1709" y="3666" width="81" height="29" rx="6"/><text x="1716" y="3685.5">活动预算：</text></g>
<g id="b6-8a" class="ly"><rect x="1813" y="3472" width="279" height="47" rx="6"/><text><tspan x="1820" y="3491.5">横幅100元，展板1000元，礼品600元，证书</tspan><tspan x="1820" y="3508.7">70元，奖品200</tspan></text></g>
<g id="b6-8b" class="ly"><rect x="1813" y="3548" width="218" height="29" rx="6"/><text x="1820" y="3567.5">元，气球彩带30元。总计：2000元</text></g>
<g id="b6-8c" class="ly"><rect x="1813" y="3608" width="168" height="29" rx="6"/><text x="1820" y="3627.5">工作安排：1.撰写活动策划</text></g>
<g id="b6-8d" class="ly"><rect x="1813" y="3667" width="218" height="29" rx="6"/><text x="1820" y="3686.5">2、递交计划和审批，申请活动经费</text></g>
<g id="b6-8e" class="ly"><rect x="1813" y="3726" width="151" height="29" rx="6"/><text x="1820" y="3745.5">3、活动宣传，征集作品</text></g>
<g id="b6-8f" class="ly"><rect x="1813" y="3785" width="113" height="29" rx="6"/><text x="1820" y="3804.5">4、联系合作单位</text></g>
<g id="b6-8g" class="ly"><rect x="1813" y="3852" width="151" height="29" rx="6"/><text x="1820" y="3871.5">5、购买和准备所需物品</text></g>
<g id="b6-8g1" class="ly"><rect x="1993" y="3844" width="278" height="47" rx="6"/><text><tspan x="2000" y="3863.5">说明：如遇到恶劣天气不能进行，活动将推迟</tspan><tspan x="2000" y="3880.7">，具体时间再作商榷</tspan></text></g>

<g id="watermark" class="wm">
  <text x="660" y="545" transform="rotate(-31 660 505)">树图 shutu.cn</text>
  <text x="1925" y="545" transform="rotate(-31 1925 505)">树图 shutu.cn</text>
  <text x="660" y="1555" transform="rotate(-31 660 1515)">树图 shutu.cn</text>
  <text x="1925" y="1565" transform="rotate(-31 1925 1525)">树图 shutu.cn</text>
  <text x="660" y="2565" transform="rotate(-31 660 2525)">树图 shutu.cn</text>
  <text x="1925" y="2555" transform="rotate(-31 1925 2515)">树图 shutu.cn</text>
  <text x="660" y="3585" transform="rotate(-31 660 3545)">树图 shutu.cn</text>
  <text x="1925" y="3600" transform="rotate(-31 1925 3560)">树图 shutu.cn</text>
</g>
</svg>
